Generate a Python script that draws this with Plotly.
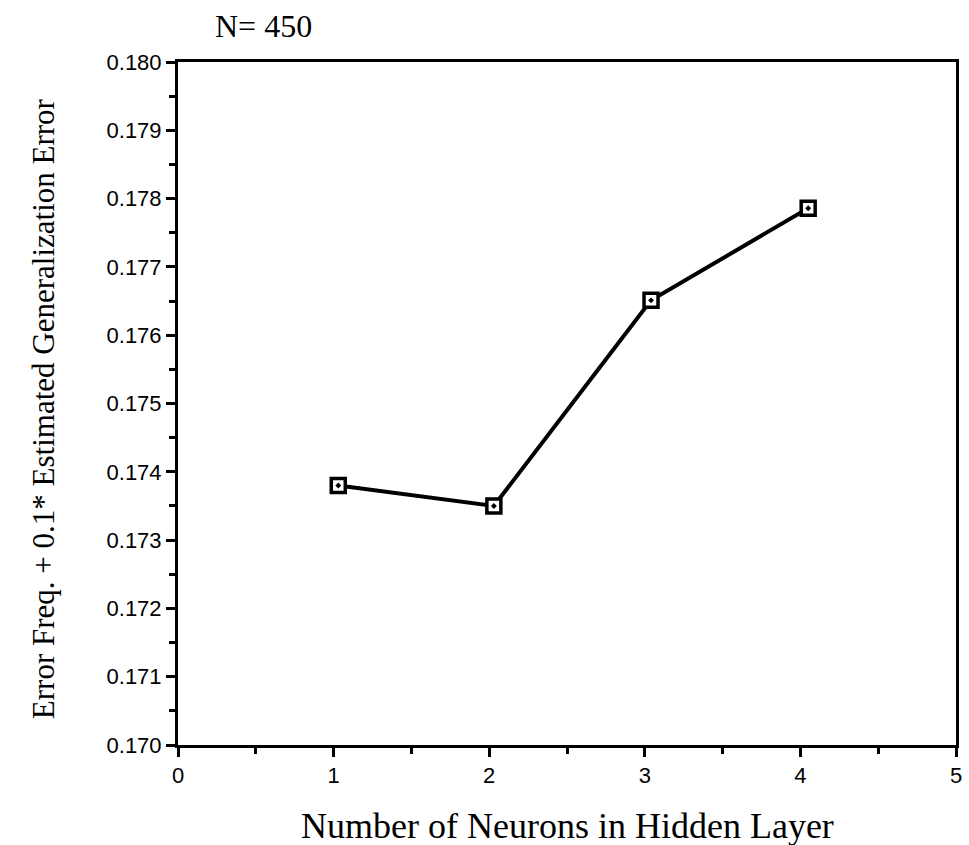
import plotly.graph_objects as go

neurons = [1.03, 2.03, 3.04, 4.05]
error_values = [0.17380, 0.17350, 0.17651, 0.17786]
x_ticks = [0, 1, 2, 3, 4, 5]
y_ticks = [0.170, 0.171, 0.172, 0.173, 0.174, 0.175, 0.176, 0.177, 0.178, 0.179, 0.180]
y_tick_labels = ["%.3f" % v for v in y_ticks]

fig = go.Figure()
fig.add_trace(go.Scatter(
    x=neurons, y=error_values, mode="lines+markers",
    line=dict(color="black", width=4),
    marker=dict(symbol="square-dot", size=14, color="white",
                line=dict(color="black", width=3.5)),
    showlegend=False,
))

tick_font = dict(family="Liberation Sans, Arial, sans-serif", size=22, color="black")
fig.update_layout(
    width=969, height=845,
    margin=dict(l=178, r=7, t=62, b=100),
    paper_bgcolor="white", plot_bgcolor="white",
    xaxis=dict(
        range=[0, 5], tickvals=x_ticks, ticktext=[str(v) for v in x_ticks],
        showline=True, linecolor="black", linewidth=3, mirror=True,
        ticks="outside", ticklen=9, tickwidth=2.5, tickcolor="black",
        minor=dict(dtick=0.5, ticks="outside", ticklen=6, tickwidth=2.5, tickcolor="black"),
        showgrid=False, zeroline=False, tickfont=tick_font,
    ),
    yaxis=dict(
        range=[0.170, 0.180], tickvals=y_ticks, ticktext=y_tick_labels,
        showline=True, linecolor="black", linewidth=3, mirror=True,
        ticks="outside", ticklen=9, tickwidth=2.5, tickcolor="black",
        minor=dict(dtick=0.0005, ticks="outside", ticklen=6, tickwidth=2.5, tickcolor="black"),
        showgrid=False, zeroline=False, tickfont=tick_font,
    ),
    annotations=[
        dict(text="Number of Neurons in Hidden Layer", xref="paper", yref="paper",
             x=0.5, y=-0.118, xanchor="center", yanchor="middle", showarrow=False,
             font=dict(family="Liberation Serif, Times New Roman, serif", size=36, color="black")),
        dict(text="Error Freq. + 0.1* Estimated Generalization Error", xref="paper", yref="paper",
             x=-0.172, y=0.492, xanchor="center", yanchor="middle", textangle=-90, showarrow=False,
             font=dict(family="Liberation Serif, Times New Roman, serif", size=31, color="black")),
        dict(text="N= 450", xref="paper", yref="paper",
             x=0.045, y=1.053, xanchor="left", yanchor="middle", showarrow=False,
             font=dict(family="Liberation Serif, Times New Roman, serif", size=32, color="black")),
    ],
)

fig.write_html("out.html")
